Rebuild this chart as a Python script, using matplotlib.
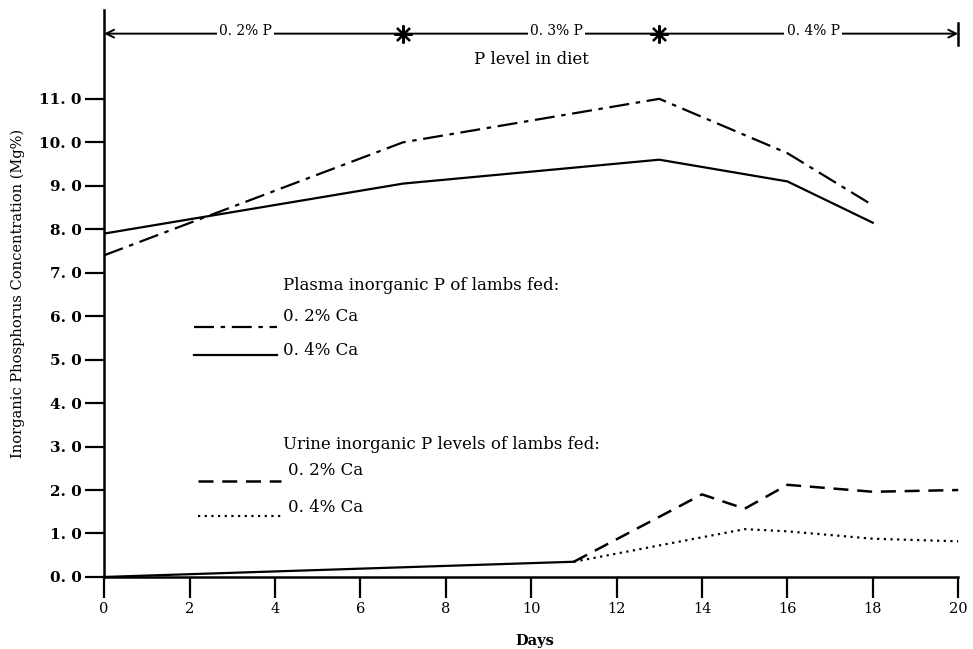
import matplotlib
matplotlib.use("Agg")
import matplotlib.pyplot as plt

# Plasma inorganic P (mg%) of lambs, by day
plasma_days_02 = [0, 7, 13, 16, 18]
plasma_02ca = [7.4, 10.0, 11.0, 9.75, 8.55]
plasma_days_04 = [0, 7, 13, 16, 18]
plasma_04ca = [7.9, 9.05, 9.6, 9.1, 8.15]

# Urine inorganic P (mg%); both groups share the first stretch
urine_days_common = [0, 11]
urine_common = [0.0, 0.35]
urine_days_02 = [11, 14, 15, 16, 18, 20]
urine_02ca = [0.35, 1.9, 1.57, 2.12, 1.96, 2.0]
urine_days_04 = [11, 15, 16, 18, 20]
urine_04ca = [0.35, 1.1, 1.05, 0.88, 0.82]

# Diet phases
phase_bounds = [0, 7, 13, 20]
phase_labels = ["0. 2% P", "0. 3% P", "0. 4% P"]
phase_label_x = [3.3, 10.6, 16.6]

xticks = list(range(0, 21, 2))
yticks = [i * 1.0 for i in range(0, 12)]
ytick_labels = ["%d. 0" % v for v in range(0, 12)]

plt.rcParams['font.family'] = ['DejaVu Serif']

fig = plt.figure(figsize=(9.73, 6.49), dpi=100)
ax = fig.add_axes([0.107, 0.111, 0.880, 0.874])

ax.plot(plasma_days_02, plasma_02ca, color='black', lw=1.6,
        linestyle=(0, (9, 3, 2, 3)))
ax.plot(plasma_days_04, plasma_04ca, color='black', lw=1.6)
ax.plot(urine_days_common, urine_common, color='black', lw=1.6)
ax.plot(urine_days_02, urine_02ca, color='black', lw=1.8,
        linestyle=(0, (6, 3.5)))
ax.plot(urine_days_04, urine_04ca, color='black', lw=1.6,
        linestyle=(0, (1, 2)))

# P level arrow across the top
arrow_y = 12.5
ax.annotate('', xy=(phase_bounds[0], arrow_y), xytext=(phase_bounds[-1], arrow_y),
            arrowprops=dict(arrowstyle='<->', color='black', lw=1.4,
                            shrinkA=0, shrinkB=0, mutation_scale=14))
ax.plot(phase_bounds[1:3], [arrow_y] * 2, linestyle='none', color='black',
        marker=(8, 2, 0), markersize=13, markeredgewidth=1.6)
ax.plot([phase_bounds[-1]] * 2, [arrow_y - 0.25, arrow_y + 0.25], color='black', lw=1.8)
for lx, lab in zip(phase_label_x, phase_labels):
    ax.text(lx, arrow_y + 0.05, lab, ha='center', va='center', fontsize=10,
            bbox=dict(fc='white', ec='none', pad=1.5))
ax.text(10.0, 11.9, "P level in diet", ha='center', va='center', fontsize=12)

# Hand-drawn legend
leg_fs = 12
ax.text(4.2, 6.7, "Plasma inorganic P of lambs fed:", ha='left', va='center', fontsize=leg_fs)
ax.plot([2.1, 4.05], [5.75, 5.75], color='black', lw=1.6, linestyle=(0, (9, 3, 2, 3)))
ax.text(4.2, 6.0, "0. 2% Ca", ha='left', va='center', fontsize=leg_fs)
ax.plot([2.1, 4.05], [5.1, 5.1], color='black', lw=1.6)
ax.text(4.2, 5.2, "0. 4% Ca", ha='left', va='center', fontsize=leg_fs)
ax.text(4.2, 3.05, "Urine inorganic P levels of lambs fed:", ha='left', va='center',
        fontsize=leg_fs)
ax.plot([2.2, 4.15], [2.2, 2.2], color='black', lw=1.8, linestyle=(0, (6, 3.5)))
ax.text(4.3, 2.45, "0. 2% Ca", ha='left', va='center', fontsize=leg_fs)
ax.plot([2.2, 4.15], [1.4, 1.4], color='black', lw=1.6, linestyle=(0, (1, 2)))
ax.text(4.3, 1.6, "0. 4% Ca", ha='left', va='center', fontsize=leg_fs)

ax.set_xlim(0, 20.05)
ax.set_ylim(0, 13.05)
ax.spines['top'].set_visible(False)
ax.spines['right'].set_visible(False)
ax.spines['left'].set_linewidth(1.8)
ax.spines['bottom'].set_linewidth(1.8)
ax.spines['bottom'].set_bounds(0, 20)

ax.set_xticks(xticks)
ax.set_xticklabels([str(v) for v in xticks], fontsize=10.5)
ax.set_yticks(yticks)
ax.set_yticklabels(ytick_labels, fontsize=11, fontweight='bold')
ax.tick_params(axis='x', direction='out', length=15, width=1.6, pad=3)
ax.tick_params(axis='y', direction='out', length=14, width=1.6, pad=2)

ax.set_xlabel("Days", fontsize=10.5, fontweight='bold', va='center')
ax.xaxis.set_label_coords(0.503, -0.113)
ax.set_ylabel("Inorganic Phosphorus Concentration (Mg%)", fontsize=10.5, labelpad=10)

fig.savefig("out.png", dpi=100)
